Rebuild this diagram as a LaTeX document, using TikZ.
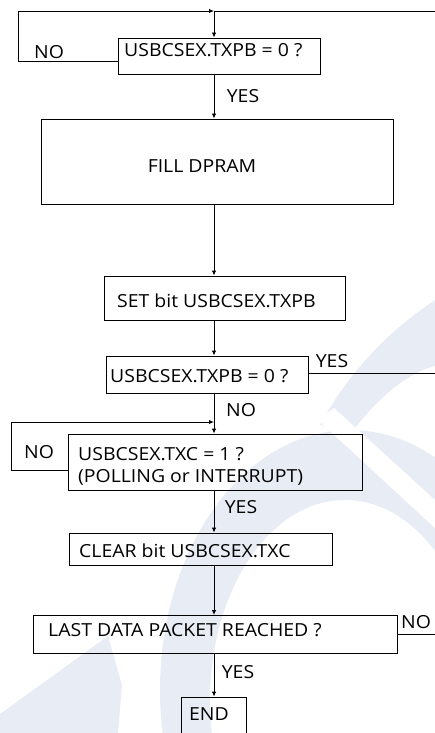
\documentclass[tikz,border=0pt]{standalone}
\usepackage{fontspec}
\setmainfont{Open Sans}[FakeStretch=1.08]
\usetikzlibrary{arrows.meta}
\definecolor{wmark}{RGB}{232,237,245}

\begin{document}
\begin{tikzpicture}[x=1bp,y=-1bp,
    box/.style={draw,line width=0.9bp,inner sep=0pt},
    txt/.style={inner sep=0pt,font=\fontsize{18bp}{22bp}\selectfont},
    lnk/.style={line width=0.9bp},
    arr/.style={line width=0.9bp,-{Latex[length=5bp,width=4.5bp]}}]
    \useasboundingbox (0,0) rectangle (435,733);

    % faint logo behind the chart
    \fill[wmark,even odd rule] (350,690) ellipse [x radius=190bp,y radius=260bp]
        (345,700) ellipse [x radius=135bp,y radius=200bp];
    \fill[wmark] (435,300) .. controls (390,330) and (350,370) .. (320,425) -- (352,432) .. controls (380,395) and (410,372) .. (435,366) -- cycle;
    \fill[white] (318,420) -- (334,408) -- (435,500) -- (435,528) -- cycle;
    \fill[wmark] (0,714) -- (108,636) -- (122,685) -- (118,733) -- (0,733) -- cycle;

    \coordinate (spine) at (214,0);
    \coordinate (top) at (214,11);
    \coordinate (topR) at (435,11);
    \coordinate (loopA) at (18,61);
    \coordinate (mid) at (214,422);
    \coordinate (loopB) at (11,470);
    \coordinate (exitA) at (435,373);

    \node[box,minimum width=202bp,minimum height=36bp] (cond1) at (219,56) {};
    \node[box,minimum width=352bp,minimum height=85bp] (fill) at (217,161.5) {};
    \node[box,minimum width=241bp,minimum height=44bp] (setbit) at (224.5,298) {};
    \node[box,minimum width=202bp,minimum height=37bp] (cond2) at (207,374.5) {};
    \node[box,minimum width=294bp,minimum height=56bp] (poll) at (215,462) {};
    \node[box,minimum width=263bp,minimum height=32bp] (clear) at (200.5,549) {};
    \node[box,minimum width=364bp,minimum height=38bp] (last) at (215,634.5) {};
    \node[box,minimum width=65bp,minimum height=39bp] (end) at (213.5,716.5) {};

    \node[txt,anchor=base west] (cond1txt) at (124,56.5) {USBCSEX.TXPB = 0 ?};
    \node[txt,anchor=base] (filltxt) at (202,172.5) {FILL DPRAM};
    \node[txt,anchor=base west] (settxt) at (117,307.5) {SET bit USBCSEX.TXPB};
    \node[txt,anchor=base west] (cond2txt) at (110,382.5) {USBCSEX.TXPB = 0 ?};
    \node[txt,anchor=base west,align=left] (polltxt) at (78,482) {USBCSEX.TXC = 1 ?\\(POLLING or INTERRUPT)};
    \node[txt,anchor=base west] (cleartxt) at (79,557.5) {CLEAR bit USBCSEX.TXC};
    \node[txt,anchor=base west] (lasttxt) at (48,636.5) {LAST DATA PACKET REACHED ?};
    \node[txt,anchor=base] (endtxt) at (209,720.5) {END};

    \node[txt,anchor=base] (no1) at (49,58.5) {NO};
    \node[txt,anchor=base] (yes1) at (243,102.5) {YES};
    \node[txt,anchor=base] (yes2) at (332,367.5) {YES};
    \node[txt,anchor=base] (no2) at (241,416.5) {NO};
    \node[txt,anchor=base] (no3) at (39,458.5) {NO};
    \node[txt,anchor=base] (yes3) at (241,513.5) {YES};
    \node[txt,anchor=base] (no4) at (416,628.5) {NO};
    \node[txt,anchor=base] (yes4) at (238,678.5) {YES};

    \draw[lnk] (topR) -- (top);
    \draw[arr] (cond1.west |- loopA) -- (loopA) |- (top);
    \draw[arr] (top) -- (cond1.north -| top);
    \draw[arr] (cond1.south -| spine) -- (fill.north -| spine);
    \draw[arr] (fill.south -| spine) -- (setbit.north -| spine);
    \draw[arr] (setbit.south -| spine) -- (cond2.north -| spine);
    \draw[lnk] (cond2.east |- exitA) -- (exitA);
    \draw[arr] (cond2.south -| spine) -- (poll.north -| spine);
    \draw[arr] (poll.west |- loopB) -- (loopB) |- (mid);
    \draw[arr] (poll.south -| spine) -- (clear.north -| spine);
    \draw[arr] (clear.south -| spine) -- (last.north -| spine);
    \draw[lnk] (last.east) -- (last.east -| topR);
    \draw[arr] (last.south -| spine) -- (end.north -| spine);
\end{tikzpicture}
\end{document}
